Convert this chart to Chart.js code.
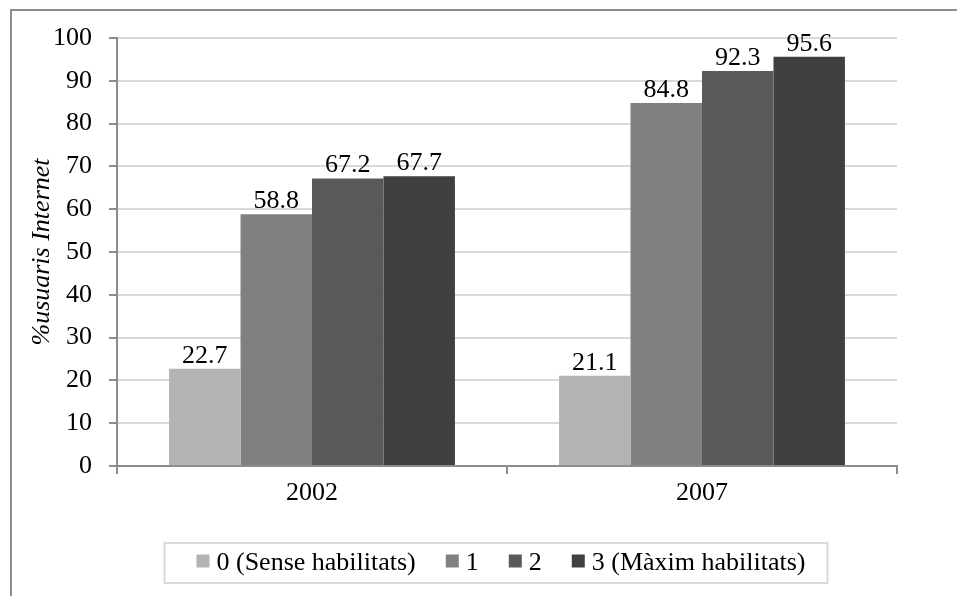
<!DOCTYPE html>
<html><head><meta charset="utf-8">
<script src="https://cdn.jsdelivr.net/npm/chart.js@4/dist/chart.umd.min.js"></script>
<style>
html,body{margin:0;padding:0;background:#fff;overflow:hidden;}
#wrap{position:absolute;left:0;top:0;width:957px;height:596px;}
#frame{position:absolute;left:10px;top:9px;width:1100px;height:800px;border:2px solid #8c8c8c;box-sizing:border-box;}
canvas{position:absolute;left:0;top:0;}
</style></head>
<body>
<div id="wrap"><div id="frame"></div><canvas id="c" width="957" height="596"></canvas></div>
<script>
const categories = ['2002', '2007'];
const seriesNames = ['0 (Sense habilitats)', '1', '2', '3 (Màxim habilitats)'];
const level0 = [22.7, 21.1];
const level1 = [58.8, 84.8];
const level2 = [67.2, 92.3];
const level3 = [67.7, 95.6];
const yTicks = [0, 10, 20, 30, 40, 50, 60, 70, 80, 90, 100];
const colors = ['#b3b3b3', '#808080', '#595959', '#404040'];

const FONT = "'Liberation Serif', 'Times New Roman', serif";
const FS = 26;

const valueLabels = {
  id: 'valueLabels',
  afterDatasetsDraw(chart) {
    const ctx = chart.ctx;
    ctx.save();
    ctx.font = FS + 'px ' + FONT;
    ctx.fillStyle = '#000';
    ctx.textAlign = 'center';
    ctx.textBaseline = 'alphabetic';
    chart.data.datasets.forEach((ds, i) => {
      const meta = chart.getDatasetMeta(i);
      meta.data.forEach((bar, j) => {
        ctx.fillText(ds.data[j].toFixed(1), bar.x, bar.y - 6);
      });
    });
    ctx.restore();
  }
};

// Legend drawn below the plot, using dataset labels and colours
const boxedLegend = {
  id: 'boxedLegend',
  afterDraw(chart) {
    const ctx = chart.ctx;
    const ds = chart.data.datasets;
    ctx.save();
    ctx.font = FS + 'px ' + FONT;
    const box = 13, gapText = 7, gapItem = 30;
    const widths = ds.map(d => ctx.measureText(d.label).width);
    let total = 0;
    widths.forEach((w, i) => { total += box + gapText + w + (i < widths.length - 1 ? gapItem : 0); });
    const ca = chart.chartArea;
    const cy = 562;
    let x = (ca.left + ca.right) / 2 - 6 - total / 2;
    const startX = x;
    ctx.textBaseline = 'middle';
    ctx.textAlign = 'left';
    ds.forEach((d, i) => {
      ctx.fillStyle = d.backgroundColor;
      ctx.fillRect(x, cy - box / 2 - 1, box, box);
      ctx.fillStyle = '#000';
      ctx.fillText(d.label, x + box + gapText, cy + 1);
      x += box + gapText + widths[i] + gapItem;
    });
    const endX = x - gapItem;
    ctx.strokeStyle = '#d9d9d9';
    ctx.lineWidth = 2;
    ctx.strokeRect(startX - 32, 543, (endX - startX) + 54, 40);
    ctx.restore();
  }
};

new Chart(document.getElementById('c'), {
  type: 'bar',
  data: {
    labels: categories,
    datasets: [level0, level1, level2, level3].map((d, i) => ({
      label: seriesNames[i],
      data: d,
      backgroundColor: colors[i],
      borderWidth: 0,
      barPercentage: 1.0,
      categoryPercentage: 0.733
    }))
  },
  options: {
    responsive: false,
    animation: false,
    devicePixelRatio: 1,
    layout: { padding: { top: 38, right: 60, left: 0, bottom: 90 } },
    plugins: {
      tooltip: { enabled: false },
      legend: { display: false }
    },
    scales: {
      x: {
        afterFit(scale) { scale.height = 40; },
        grid: { display: true, drawOnChartArea: false, offset: true, tickLength: 8, color: '#8c8c8c', lineWidth: 2 },
        border: { display: true, color: '#8c8c8c', width: 2 },
        ticks: { color: '#000', font: { family: FONT, size: FS }, padding: 4 }
      },
      y: {
        min: 0, max: 100,
        afterFit(scale) { scale.width = 117; },
        afterBuildTicks(scale) { scale.ticks = yTicks.map(v => ({ value: v })); },
        grid: { color: '#d9d9d9', lineWidth: 2, tickLength: 8, tickColor: '#8c8c8c' },
        border: { display: true, color: '#8c8c8c', width: 2 },
        ticks: { color: '#000', font: { family: FONT, size: FS }, padding: 17 },
        title: {
          display: true, text: '%usuaris Internet', color: '#000',
          font: { family: FONT, size: FS, style: 'italic' }, padding: { top: 27, bottom: 0 }
        }
      }
    }
  },
  plugins: [valueLabels, boxedLegend]
});
</script>
</body></html>
